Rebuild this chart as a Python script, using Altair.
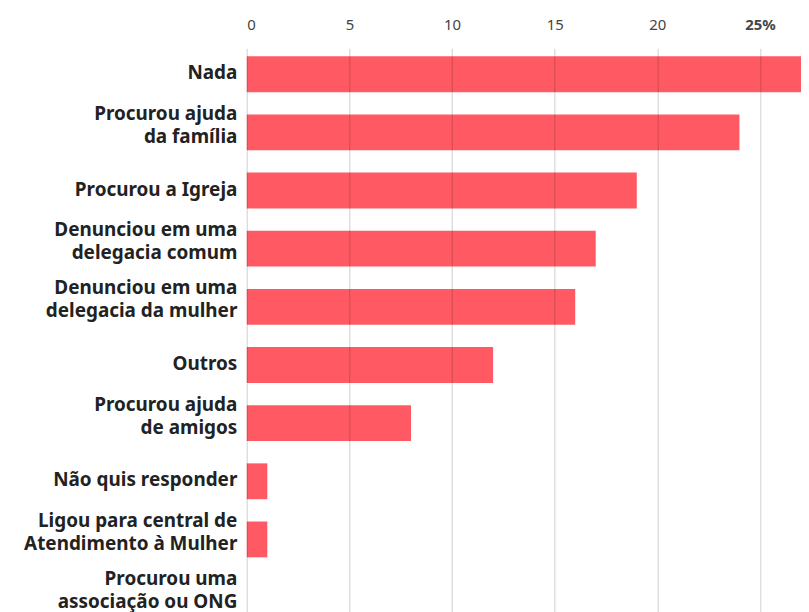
import altair as alt
import pandas as pd

categories = [
    "Nada",
    "Procurou ajuda|da família",
    "Procurou a Igreja",
    "Denunciou em uma|delegacia comum",
    "Denunciou em uma|delegacia da mulher",
    "Outros",
    "Procurou ajuda|de amigos",
    "Não quis responder",
    "Ligou para central de|Atendimento à Mulher",
    "Procurou uma|associação ou ONG",
]
values = [27, 24, 19, 17, 16, 12, 8, 1, 1, 0]
tick_values = [0, 5, 10, 15, 20, 25]

df = pd.DataFrame({"cat": categories, "val": values})

chart = alt.Chart(df).mark_bar(color="#FF5A64").encode(
    x=alt.X(
        "val:Q",
        scale=alt.Scale(domain=[0, 27], nice=False, zero=True),
        axis=alt.Axis(
            orient="top",
            values=tick_values,
            title=None,
            ticks=False,
            domain=False,
            grid=True,
            gridColor="#000000",
            gridOpacity=0.13,
            gridWidth=1.5,
            zindex=1,
            labelFont="Noto Sans",
            labelFontSize=15,
            labelColor="#444444",
            labelPadding=16,
            labelExpr="datum.value == 25 ? '25%' : datum.label",
            labelFontWeight={"condition": {"test": "datum.value == 25", "value": "bold"}, "value": "normal"},
        ),
    ),
    y=alt.Y(
        "cat:N",
        sort=categories,
        scale=alt.Scale(paddingInner=0.384, paddingOuter=0.137),
        axis=alt.Axis(
            title=None,
            ticks=False,
            domain=False,
            labelFont="Noto Sans",
            labelFontSize=19,
            labelFontWeight="bold",
            labelColor="#222222",
            labelPadding=10,
            labelLimit=300,
            labelLineHeight=23,
            labelExpr="split(datum.label, '|')",
            labelOffset={"condition": {"test": "indexof(datum.value, '|') >= 0", "value": -18.5}, "value": -1},
        ),
    ),
).properties(
    width=557,
    height=578,
    autosize=alt.AutoSizeParams(type="none"),
    padding={"left": 240, "top": 39, "right": 0, "bottom": 0},
).configure_view(stroke=None)

chart.save("out.html", embed_options={"renderer": "svg", "actions": False})
